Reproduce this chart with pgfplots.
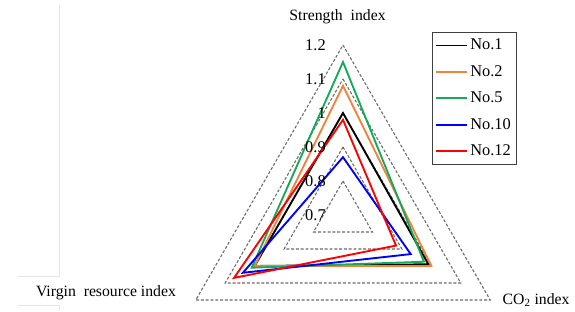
\documentclass[border=0pt]{standalone}
\usepackage{pgfplots}
\pgfplotsset{compat=1.18}
\usepackage{pgfplotstable}
\usepackage{fontspec}
\setmainfont{Liberation Serif}
\definecolor{xlorange}{RGB}{240,130,60}
\definecolor{xlgreen}{RGB}{20,170,90}
\definecolor{gridgray}{RGB}{105,105,105}
% a = angle of the spoke (Strength 90, CO2 -30, Virgin resource 210), v = index value
\pgfplotstableread{
a v
90 1.00
-30 0.99
210 1.00
}\noone
\pgfplotstableread{
a v
90 1.08
-30 1.00
210 1.00
}\notwo
\pgfplotstableread{
a v
90 1.15
-30 0.975
210 1.01
}\nofive
\pgfplotstableread{
a v
90 0.87
-30 0.93
210 1.04
}\noten
\pgfplotstableread{
a v
90 0.98
-30 0.88
210 1.07
}\notwelve
\pgfplotstableread{
a v
90 0
-30 0
210 0
}\spokes
\newcommand\radar[2]{\addplot[#1,forget plot] table[x expr={(\thisrow{v}-0.7)*cos(\thisrow{a})}, y expr={(\thisrow{v}-0.7)*sin(\thisrow{a})}]{#2} -- cycle;}
\begin{document}
\begin{tikzpicture}
\draw[black!10,line width=0.6pt] (44.6pt,229.5pt) -- (44.6pt,26.25pt) -- (13.5pt,26.25pt);
\draw[black!10,line width=0.6pt] (13.5pt,4.5pt) -- (44.6pt,4.5pt) -- (44.6pt,0pt);
\begin{axis}[at={(0,0)},anchor=south west,
  width=431.25pt,height=233.25pt,scale only axis,
  xmin=-1.0088,xmax=0.6824,ymin=-0.2824,ymax=0.6324,
  hide axis, clip=false,
  font=\fontsize{11.5}{13}\selectfont,
  legend image code/.code={\draw[#1] (0pt,0pt) -- (23pt,0pt);},
  legend style={at={(0.7513,0.897)},anchor=north west,draw=black!75,line width=0.6pt,
    cells={anchor=west},inner xsep=2pt,inner ysep=3pt,row sep=6.2pt,
    font=\fontsize{12.3}{13}\selectfont},
]
\pgfplotsinvokeforeach{0.8,0.9,1.0,1.1,1.2}{
  \addplot[gridgray,line width=0.8pt,dash pattern=on 2.2pt off 1.4pt,forget plot]
    table[x expr={(#1-0.7)*cos(\thisrow{a})}, y expr={(#1-0.7)*sin(\thisrow{a})}]{\spokes} -- cycle;
}
\radar{black,line width=1.4pt,line join=miter}{\noone}
\radar{xlorange,line width=1.4pt,line join=miter}{\notwo}
\radar{xlgreen,line width=1.4pt,line join=miter}{\nofive}
\radar{blue,line width=1.4pt,line join=miter}{\noten}
\radar{red,line width=1.4pt,line join=miter}{\notwelve}
\addlegendimage{black,line width=1.4pt}
\addlegendentry{No.1}
\addlegendimage{xlorange,line width=1.4pt}
\addlegendentry{No.2}
\addlegendimage{xlgreen,line width=1.4pt}
\addlegendentry{No.5}
\addlegendimage{blue,line width=1.4pt}
\addlegendentry{No.10}
\addlegendimage{red,line width=1.4pt}
\addlegendentry{No.12}
\node[anchor=east,inner sep=0pt,font=\fontsize{12.3}{13}\selectfont] at (axis cs:-0.05,0) {0.7};
\node[anchor=east,inner sep=0pt,font=\fontsize{12.3}{13}\selectfont] at (axis cs:-0.05,0.1) {0.8};
\node[anchor=east,inner sep=0pt,font=\fontsize{12.3}{13}\selectfont] at (axis cs:-0.05,0.2) {0.9};
\node[anchor=east,inner sep=0pt,font=\fontsize{12.3}{13}\selectfont] at (axis cs:-0.05,0.3) {1};
\node[anchor=east,inner sep=0pt,font=\fontsize{12.3}{13}\selectfont] at (axis cs:-0.05,0.4) {1.1};
\node[anchor=east,inner sep=0pt,font=\fontsize{12.3}{13}\selectfont] at (axis cs:-0.05,0.5) {1.2};
\node[font=\fontsize{11.8}{13}\selectfont] at (axis cs:-0.016,0.582) {Strength\ \ index};
\node[font=\fontsize{11.8}{13}\selectfont] at (axis cs:-0.697,-0.229) {Virgin\ \ resource index};
\node[font=\fontsize{11.8}{13}\selectfont] at (axis cs:0.568,-0.25) {CO\textsubscript{2} index};
\end{axis}
\pgfresetboundingbox
\useasboundingbox (0,0) rectangle (431.25pt,233.25pt);
\end{tikzpicture}
\end{document}
